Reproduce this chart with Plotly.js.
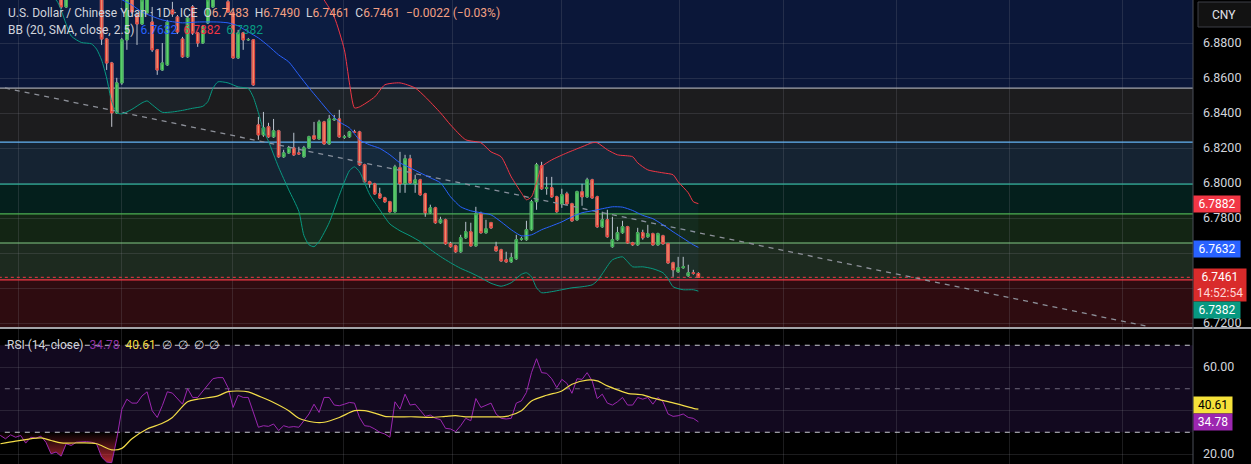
<!DOCTYPE html>
<html><head><meta charset="utf-8">
<script src="https://cdn.plot.ly/plotly-3.0.1.min.js"></script>
<style>html,body{margin:0;padding:0;background:#000;overflow:hidden}#chart{width:1251px;height:464px}</style>
</head><body><div id="chart"></div>
<script>
// ---------- candles (USD/CNY daily) ----------
const openP = [
6.9290,6.9270,6.9240,6.9260,6.9220,6.9240,6.9180,6.9210,6.9190,6.9200,
6.9150,6.9120,6.9100,6.9080,6.9006,6.9075,6.9120,6.9095,6.9140,6.9125,
6.9100,6.9110,6.8823,6.8686,6.8401,6.8572,6.8818,6.9052,6.8960,6.8909,
6.8972,6.8920,6.8761,6.8646,6.8675,6.8989,6.8949,6.8823,6.8721,6.9006,
6.8858,6.8800,6.8915,6.9006,6.9069,6.9090,6.9035,6.8972,6.8715,6.8858,
6.8818,6.8818,6.8332,6.8275,6.8321,6.8264,6.8298,6.8150,6.8172,6.8201,
6.8172,6.8150,6.8201,6.8270,6.8252,6.8349,6.8224,6.8361,6.8366,6.8261,
6.8264,6.8292,6.8292,6.8104,6.8007,6.7995,6.7938,6.7915,6.7893,6.7836,
6.8087,6.7995,6.8138,6.7995,6.8018,6.7938,6.7830,6.7858,6.7773,6.7790,
6.7653,6.7641,6.7607,6.7687,6.7721,6.7641,6.7824,6.7716,6.7773,6.7636,
6.7618,6.7561,6.7550,6.7567,6.7679,6.7676,6.7733,6.7893,6.8098,6.7970,
6.7973,6.7921,6.7881,6.7938,6.7881,6.7790,6.7950,6.7921,6.8018,6.7921,
6.7750,6.7790,6.7636,6.7676,6.7716,6.7750,6.7658,6.7647,6.7716,6.7693,
6.7710,6.7647,6.7698,6.7653,6.7544,6.7493,6.7516,6.7470,6.7487,6.7483];
const highP = [
6.9330,6.9300,6.9290,6.9280,6.9260,6.9250,6.9230,6.9240,6.9230,6.9210,
6.9180,6.9150,6.9130,6.9100,6.9090,6.9140,6.9150,6.9160,6.9170,6.9150,
6.9130,6.9130,6.8829,6.8692,6.8601,6.8829,6.9080,6.9069,6.8977,6.9063,
6.9080,6.9006,6.8766,6.8800,6.8932,6.9035,6.8960,6.8835,6.8955,6.9017,
6.8863,6.8903,6.9057,6.9080,6.9110,6.9100,6.9057,6.8977,6.8875,6.8863,
6.8829,6.8823,6.8378,6.8406,6.8344,6.8366,6.8304,6.8190,6.8212,6.8287,
6.8207,6.8212,6.8270,6.8349,6.8361,6.8355,6.8389,6.8389,6.8418,6.8275,
6.8298,6.8304,6.8298,6.8110,6.8013,6.8001,6.7973,6.7921,6.7898,6.8104,
6.8178,6.8161,6.8161,6.8047,6.8024,6.7944,6.7876,6.7864,6.7807,6.7796,
6.7664,6.7647,6.7704,6.7778,6.7773,6.7864,6.7836,6.7790,6.7778,6.7664,
6.7624,6.7607,6.7601,6.7704,6.7693,6.7784,6.7904,6.8115,6.8121,6.8035,
6.8035,6.7927,6.7967,6.7950,6.7887,6.7956,6.7995,6.8030,6.8024,6.7927,
6.7836,6.7847,6.7807,6.7750,6.7784,6.7755,6.7664,6.7744,6.7733,6.7761,
6.7716,6.7716,6.7704,6.7658,6.7550,6.7578,6.7578,6.7533,6.7504,6.7490];
const lowP = [
6.9250,6.9220,6.9210,6.9200,6.9190,6.9170,6.9160,6.9170,6.9150,6.9130,
6.9100,6.9080,6.9060,6.8995,6.9000,6.9060,6.9080,6.9085,6.9100,6.9080,
6.9070,6.8789,6.8646,6.8321,6.8395,6.8561,6.8761,6.8966,6.8789,6.8903,
6.8966,6.8749,6.8618,6.8641,6.8669,6.8949,6.8852,6.8715,6.8715,6.8846,
6.8778,6.8795,6.8909,6.9000,6.9060,6.9050,6.8972,6.8709,6.8709,6.8761,
6.8812,6.8555,6.8247,6.8264,6.8258,6.8258,6.8144,6.8144,6.8167,6.8155,
6.8161,6.8144,6.8195,6.8247,6.8247,6.8218,6.8218,6.8355,6.8258,6.8252,
6.8258,6.8287,6.8098,6.8001,6.7973,6.7933,6.7910,6.7887,6.7830,6.7830,
6.7944,6.7944,6.7995,6.7944,6.7927,6.7807,6.7824,6.7767,6.7767,6.7647,
6.7630,6.7601,6.7601,6.7681,6.7636,6.7636,6.7710,6.7710,6.7738,6.7607,
6.7550,6.7544,6.7544,6.7561,6.7670,6.7670,6.7727,6.7847,6.7961,6.7933,
6.7915,6.7830,6.7858,6.7876,6.7778,6.7784,6.7870,6.7915,6.7910,6.7744,
6.7744,6.7687,6.7630,6.7670,6.7710,6.7653,6.7641,6.7641,6.7676,6.7687,
6.7641,6.7641,6.7647,6.7538,6.7464,6.7487,6.7510,6.7464,6.7476,6.7461];
const closeP = [
6.9270,6.9240,6.9260,6.9220,6.9240,6.9180,6.9210,6.9190,6.9200,6.9150,
6.9120,6.9100,6.9080,6.9006,6.9075,6.9120,6.9095,6.9140,6.9125,6.9100,
6.9110,6.8823,6.8686,6.8401,6.8572,6.8818,6.9057,6.8977,6.8909,6.9046,
6.9075,6.8761,6.8646,6.8686,6.8920,6.8966,6.8863,6.8721,6.8943,6.8858,
6.8800,6.8892,6.9046,6.9069,6.9090,6.9060,6.8977,6.8715,6.8858,6.8818,
6.8820,6.8561,6.8275,6.8315,6.8264,6.8298,6.8150,6.8172,6.8201,6.8161,
6.8167,6.8201,6.8264,6.8252,6.8349,6.8224,6.8366,6.8366,6.8264,6.8264,
6.8292,6.8289,6.8104,6.8007,6.7995,6.7938,6.7915,6.7893,6.7836,6.8092,
6.7995,6.8138,6.8001,6.8018,6.7933,6.7830,6.7858,6.7773,6.7790,6.7653,
6.7636,6.7607,6.7687,6.7721,6.7641,6.7824,6.7716,6.7738,6.7744,6.7613,
6.7555,6.7550,6.7573,6.7676,6.7681,6.7733,6.7893,6.8104,6.7967,6.7973,
6.7921,6.7836,6.7933,6.7881,6.7784,6.7950,6.7921,6.8018,6.7915,6.7750,
6.7790,6.7693,6.7676,6.7716,6.7750,6.7658,6.7647,6.7716,6.7687,6.7710,
6.7647,6.7710,6.7653,6.7544,6.7504,6.7516,6.7521,6.7487,6.7483,6.7461];

// ---------- Bollinger Bands (20, SMA, close, 2.5), read at candle index ----------
const bbUpperIdx = [12,25,40,55,62,64,65,67,69,70,71,72,75,77,80,83,85,88,90,93,96,98,100,102,104,105,106,107,108,110,113,116,118,119,121,123,126,127,129,132,134,135,137,138,139];
const bbUpperVal = [6.9600,6.9560,6.9480,6.9300,6.9150,6.9090,6.9046,6.8949,6.8761,6.8572,6.8429,6.8435,6.8492,6.8561,6.8572,6.8543,6.8492,6.8401,6.8332,6.8247,6.8230,6.8178,6.8150,6.8035,6.7944,6.7904,6.7921,6.8001,6.8092,6.8132,6.8172,6.8207,6.8230,6.8230,6.8190,6.8161,6.8150,6.8115,6.8075,6.8058,6.8047,6.8007,6.7944,6.7893,6.7882];
const bbMidIdx = [20,24,27,29,33,37,40,44,46,48,50,52,54,56,58,60,62,64,66,68,70,72,74,76,78,80,82,84,86,88,90,92,94,96,98,100,102,104,106,108,110,112,114,116,118,120,122,124,126,128,130,132,134,136,138,139];
const bbMidVal = [6.9140,6.9063,6.9017,6.8977,6.8932,6.8915,6.8920,6.8920,6.8915,6.8898,6.8863,6.8829,6.8783,6.8732,6.8692,6.8618,6.8544,6.8475,6.8406,6.8349,6.8315,6.8247,6.8218,6.8198,6.8161,6.8115,6.8087,6.8058,6.8030,6.8001,6.7921,6.7864,6.7841,6.7830,6.7818,6.7778,6.7733,6.7698,6.7704,6.7733,6.7755,6.7778,6.7807,6.7830,6.7841,6.7853,6.7864,6.7862,6.7843,6.7815,6.7796,6.7761,6.7721,6.7684,6.7647,6.7632];
const bbLowerIdx = [9,12,15,17,19,20,21,22,23,24,25,27,29,30,31,33,35,37,39,41,42,43,44,46,48,50,51,52,53,54,56,58,60,61,62,63,64,66,68,70,71,72,74,76,78,80,82,84,86,88,90,92,94,96,98,100,102,104,105,106,107,108,110,112,114,116,118,119,120,122,124,125,126,128,130,132,133,134,136,138,139];
const bbLowerVal = [6.9075,6.9046,6.8840,6.8803,6.8795,6.8765,6.8703,6.8600,6.8465,6.8401,6.8395,6.8421,6.8458,6.8469,6.8447,6.8404,6.8406,6.8415,6.8427,6.8438,6.8465,6.8540,6.8578,6.8572,6.8549,6.8540,6.8490,6.8401,6.8300,6.8238,6.8090,6.7961,6.7838,6.7700,6.7647,6.7636,6.7665,6.7773,6.7930,6.8070,6.8092,6.8064,6.7935,6.7847,6.7766,6.7727,6.7698,6.7665,6.7620,6.7580,6.7544,6.7512,6.7487,6.7458,6.7427,6.7410,6.7430,6.7478,6.7487,6.7464,6.7401,6.7373,6.7379,6.7390,6.7401,6.7407,6.7418,6.7441,6.7481,6.7561,6.7578,6.7550,6.7521,6.7521,6.7510,6.7487,6.7453,6.7407,6.7390,6.7390,6.7382];

// ---------- RSI (14, close) and its MA ----------
const rsiVal = [
29.0,28.5,27.0,28.8,27.7,28.5,25.0,27.7,27.3,28.2,
25.4,20.1,20.9,19.0,24.7,23.9,25.4,25.7,25.7,25.4,
24.7,18.6,16.3,16.0,27.0,40.6,45.2,43.4,43.4,46.7,
48.6,39.9,36.8,42.2,48.6,48.0,45.2,42.9,50.1,46.0,
46.0,49.0,51.6,54.6,55.1,55.1,50.5,41.4,47.0,46.0,
46.0,39.1,32.3,33.0,32.7,33.8,30.8,33.0,32.3,32.6,
32.3,35.3,38.4,42.9,39.1,46.0,46.0,42.5,42.2,42.9,
43.7,43.4,36.8,33.0,32.7,31.5,30.0,29.2,27.7,44.0,
40.6,47.5,42.5,42.9,39.9,37.3,37.9,36.4,35.8,31.8,
31.5,30.3,33.0,36.4,35.3,45.5,41.4,42.5,43.4,38.4,
36.4,36.1,36.4,43.4,44.4,48.3,57.4,63.8,57.4,57.1,
54.6,50.5,54.3,52.5,47.9,54.6,54.3,57.4,53.6,45.5,
47.5,43.4,42.5,44.0,46.0,42.5,42.5,46.0,45.2,46.0,
42.9,46.0,44.0,38.4,37.3,37.6,38.4,36.8,36.4,34.78];
const rsiMaIdx = [1,4,9,11,13,17,20,23,25,27,30,33,35,38,40,44,46,50,52,55,58,60,63,65,68,71,73,75,77,79,83,86,89,91,93,97,101,104,106,109,112,114,117,119,121,123,125,128,130,133,135,138,139];
const rsiMaVal = [24.7,25.9,27.4,26.2,25.1,25.1,24.7,21.9,22.6,27.0,31.5,34.1,36.8,44.0,45.2,46.7,48.7,48.6,46.7,43.7,39.9,36.4,34.6,34.6,36.8,39.9,39.9,38.8,37.3,37.1,37.1,36.8,37.3,37.6,37.1,37.1,37.3,39.9,44.4,47.0,49.0,52.1,54.0,53.6,51.3,49.5,47.9,47.2,45.7,44.1,42.9,41.0,40.61];

// ---------- drawings & axes ----------
const fibLevels = [6.8542, 6.8234, 6.7994, 6.7823, 6.7657, 6.7446];
const fibLineColors = ['#a3a6ae', '#64b5f6', '#2fae98', '#4caf50', '#81c784', '#f23645'];
const fibFillColors = ['#0b1739', '#1c1c1e', '#152332', '#041f1c', '#132514', '#1d2a1f', '#2e0c10'];
const trendIdx = [1.9, 227.9];
const trendVal = [6.8543, 6.7180];
const priceTicks = [6.72, 6.74, 6.76, 6.78, 6.80, 6.82, 6.84, 6.86, 6.88];
const priceTickHidden = [6.74, 6.76];   // covered by the price labels on the scale
const rsiTicks = [20, 40, 60];
const rsiTickHidden = [40];
const rsiLevels = [70, 50, 30];
const monthGrid = [4.5, 25, 46.8, 68.9, 90.3, 112, 135.2, 155.9, 178.1, 200.6, 222.8];

const last = closeP.length - 1;
const idx = openP.map((_, i) => i);
const bodyHigh = openP.map((o, i) => Math.max(o, closeP[i]));
const bodyLow = openP.map((o, i) => Math.min(o, closeP[i]));
const rsiClip = rsiVal.map(v => Math.min(v, rsiLevels[2]));
const rsiFloor = rsiVal.map(() => rsiLevels[2]);

const GRID = 'rgba(140,142,152,0.2)';
const X0 = -10, X1 = 260;

const traces = [
  {x: trendIdx, y: trendVal, type: 'scatter', mode: 'lines', line: {color: '#8d9099', width: 1.3, dash: '5px,5px'}},
  {x: bbLowerIdx, y: bbLowerVal, type: 'scatter', mode: 'lines', line: {color: '#089981', width: 1, shape: 'spline', smoothing: 0.6}},
  {x: bbUpperIdx, y: bbUpperVal, type: 'scatter', mode: 'lines', line: {color: '#f23645', width: 1, shape: 'spline', smoothing: 0.6}, fill: 'tonexty', fillcolor: 'rgba(33,150,243,0.05)'},
  {x: bbMidIdx, y: bbMidVal, type: 'scatter', mode: 'lines', line: {color: '#2962ff', width: 1, shape: 'spline', smoothing: 0.6}},
  {type: 'candlestick', x: idx, open: openP, high: highP, low: lowP, close: closeP,
   increasing: {line: {color: '#c4c7cf', width: 1}, fillcolor: 'rgba(0,0,0,0)'},
   decreasing: {line: {color: '#c4c7cf', width: 1}, fillcolor: 'rgba(0,0,0,0)'}},
  {type: 'candlestick', x: idx, open: openP, high: bodyHigh, low: bodyLow, close: closeP,
   increasing: {line: {color: '#3aa845', width: 1}, fillcolor: '#62d36a'},
   decreasing: {line: {color: '#ea3a30', width: 1}, fillcolor: '#f98a66'}},
  {x: idx, y: rsiFloor, yaxis: 'y2', type: 'scatter', mode: 'lines', line: {width: 0, color: 'rgba(0,0,0,0)'}},
  {x: idx, y: rsiClip, yaxis: 'y2', type: 'scatter', mode: 'lines', line: {width: 0, color: 'rgba(0,0,0,0)'}, fill: 'tonexty',
   fillcolor: 'rgba(242,54,69,0.3)',
   fillgradient: {type: 'vertical', start: 15.4, stop: 30, colorscale: [[0, 'rgba(242,54,69,0.75)'], [1, 'rgba(242,54,69,0)']]}},
  {x: idx, y: rsiVal, yaxis: 'y2', type: 'scatter', mode: 'lines', line: {color: '#9c27b0', width: 1}},
  {x: rsiMaIdx, y: rsiMaVal, yaxis: 'y2', type: 'scatter', mode: 'lines', line: {color: '#f2dc48', width: 1.2, shape: 'spline', smoothing: 0.8}}
];

const shapes = [];
const bandEdges = [7.5].concat(fibLevels).concat([6.5]);
for (let k = 0; k < fibFillColors.length; k++) {
  shapes.push({type: 'rect', xref: 'x', yref: 'y', x0: X0, x1: X1, y0: bandEdges[k + 1], y1: bandEdges[k],
    fillcolor: fibFillColors[k], line: {width: 0}, layer: 'below'});
}
fibLevels.forEach((lv, k) => shapes.push({type: 'line', xref: 'x', yref: 'y', x0: X0, x1: X1, y0: lv, y1: lv,
  line: {color: fibLineColors[k], width: 1.2}, layer: 'between'}));
shapes.push({type: 'line', xref: 'x', yref: 'y', x0: X0, x1: X1, y0: closeP[last], y1: closeP[last],
  line: {color: '#f23645', width: 1, dash: 'dot'}, layer: 'between'});
shapes.push({type: 'rect', xref: 'x', yref: 'y2', x0: X0, x1: X1, y0: rsiLevels[2], y1: rsiLevels[0],
  fillcolor: '#12091f', line: {width: 0}, layer: 'below'});
rsiLevels.forEach((lv, k) => shapes.push({type: 'line', xref: 'x', yref: 'y2', x0: X0, x1: X1, y0: lv, y1: lv,
  line: {color: k === 1 ? '#6f6a7c' : '#c9ccd3', width: 1, dash: '5px,5px'}, layer: 'between'}));
shapes.push({type: 'line', xref: 'paper', yref: 'paper', x0: 0, x1: 1251 / 1193, y0: 1 - 328 / 464, y1: 1 - 328 / 464,
  line: {color: '#d8dbe2', width: 1.5}});
shapes.push({type: 'line', xref: 'paper', yref: 'paper', x0: 1, x1: 1, y0: 0, y1: 1, line: {color: '#4a4e59', width: 1}});
shapes.push({type: 'rect', xref: 'paper', yref: 'paper', x0: 1198 / 1193, x1: 1256 / 1193, y0: 1 - 27 / 464, y1: 1 - 2 / 464,
  fillcolor: '#121212', line: {color: '#3c3f47', width: 1}});

const fmt4 = v => v.toFixed(4);
const chg = closeP[last] - closeP[last - 1];
const pct = chg / closeP[last - 1] * 100;
const VAL = '#f4a083';
const sp = '\u00a0\u00a0';
const line1 = 'U.S. Dollar / Chinese Yuan · 1D · ICE' + sp +
  'O<span style="color:' + VAL + '">' + fmt4(openP[last]) + '</span>' + sp +
  'H<span style="color:' + VAL + '">' + fmt4(highP[last]) + '</span>' + sp +
  'L<span style="color:' + VAL + '">' + fmt4(lowP[last]) + '</span>' + sp +
  'C<span style="color:' + VAL + '">' + fmt4(closeP[last]) + '</span>' + sp +
  '<span style="color:' + VAL + '">' + (chg < 0 ? '\u2212' : '+') + Math.abs(chg).toFixed(4) +
  ' (' + (pct < 0 ? '\u2212' : '+') + Math.abs(pct).toFixed(2) + '%)</span>';
const bbM = bbMidVal[bbMidVal.length - 1], bbU = bbUpperVal[bbUpperVal.length - 1], bbL = bbLowerVal[bbLowerVal.length - 1];
const line2 = 'BB (20, SMA, close, 2.5)' + sp +
  '<span style="color:#2962ff">' + fmt4(bbM) + '</span>' + sp +
  '<span style="color:#f23645">' + fmt4(bbU) + '</span>' + sp +
  '<span style="color:#089981">' + fmt4(bbL) + '</span>';
const rsiLast = rsiVal[last], maLast = rsiMaVal[rsiMaVal.length - 1];
const line3 = 'RSI (14, close)' + sp + '<span style="color:#8e35a6">' + rsiLast.toFixed(2) + '</span>' + sp +
  '<span style="color:#f2dc48">' + maLast.toFixed(2) + '</span>' + sp + '\u2205' + sp + '\u2205' + sp + '\u2205' + sp + '\u2205';

const FONT = 'Roboto, "Open Sans", sans-serif';
const annotations = [
  {xref: 'paper', yref: 'paper', x: 6 / 1193, y: 1 - 13 / 464, xanchor: 'left', yanchor: 'middle', showarrow: false,
   text: line1, font: {family: FONT, size: 12, color: '#d1d4dc'}},
  {xref: 'paper', yref: 'paper', x: 6 / 1193, y: 1 - 30 / 464, xanchor: 'left', yanchor: 'middle', showarrow: false,
   text: line2, font: {family: FONT, size: 12, color: '#d1d4dc'}},
  {xref: 'paper', yref: 'paper', x: 5 / 1193, y: 1 - 345 / 464, xanchor: 'left', yanchor: 'middle', showarrow: false,
   text: line3, font: {family: FONT, size: 12, color: '#d1d4dc'}},
  {xref: 'paper', yref: 'paper', x: 1224 / 1193, y: 1 - 15 / 464, xanchor: 'center', yanchor: 'middle', showarrow: false,
   text: 'CNY', font: {family: FONT, size: 12, color: '#e0e3ea'}},
  {xref: 'paper', yref: 'y', x: 1, y: bbU, xanchor: 'left', yanchor: 'middle', showarrow: false, text: fmt4(bbU),
   bgcolor: '#f23645', width: 44, borderpad: 1, font: {family: FONT, size: 12, color: '#ffffff'}},
  {xref: 'paper', yref: 'y', x: 1, y: bbM, xanchor: 'left', yanchor: 'middle', yshift: -2, showarrow: false, text: fmt4(bbM),
   bgcolor: '#2962ff', width: 44, borderpad: 1, font: {family: FONT, size: 12, color: '#ffffff'}},
  {xref: 'paper', yref: 'y', x: 1, y: closeP[last], xanchor: 'left', yanchor: 'top', yshift: 9, showarrow: false,
   text: fmt4(closeP[last]) + '<br><span style="color:#ffd6d6">14:52:54</span>',
   bgcolor: '#d92b2b', width: 50, borderpad: 1, font: {family: FONT, size: 12, color: '#ffffff'}},
  {xref: 'paper', yref: 'y', x: 1, y: bbL, xanchor: 'left', yanchor: 'middle', yshift: -19, showarrow: false, text: fmt4(bbL),
   bgcolor: '#089981', width: 44, borderpad: 1, font: {family: FONT, size: 12, color: '#ffffff'}},
  {xref: 'paper', yref: 'y2', x: 1, y: maLast, xanchor: 'left', yanchor: 'middle', yshift: 4, showarrow: false, text: maLast.toFixed(2),
   bgcolor: '#f5e23a', width: 36, borderpad: 1, font: {family: FONT, size: 12, color: '#000000'}},
  {xref: 'paper', yref: 'y2', x: 1, y: rsiLast, xanchor: 'left', yanchor: 'middle', showarrow: false, text: rsiLast.toFixed(2),
   bgcolor: '#9c27b0', width: 36, borderpad: 1, font: {family: FONT, size: 12, color: '#ffffff'}}
];

const layout = {
  width: 1251, height: 464, margin: {l: 0, r: 58, t: 0, b: 0, pad: 0},
  paper_bgcolor: '#000000', plot_bgcolor: '#000000',
  showlegend: false, hovermode: false, dragmode: false,
  font: {family: FONT, color: '#d1d4dc', size: 12},
  xaxis: {range: [0.91, 236.8], tickmode: 'array', tickvals: monthGrid, showticklabels: false, ticks: '',
    showgrid: true, gridcolor: GRID, gridwidth: 1, zeroline: false, showline: false, rangeslider: {visible: false}, fixedrange: true},
  yaxis: {domain: [1 - 327 / 464, 1], range: [6.717714, 6.904571], side: 'right', tickmode: 'array', tickvals: priceTicks,
    ticktext: priceTicks.map(v => priceTickHidden.includes(v) ? '' : fmt4(v)), showgrid: true, gridcolor: GRID, zeroline: false, ticks: '', showline: false,
    ticklabelstandoff: 9, tickfont: {family: FONT, size: 12.5, color: '#d1d4dc'}, fixedrange: true},
  yaxis2: {domain: [0, 1 - 329 / 464], range: [15.40, 77.47], side: 'right', anchor: 'x', tickmode: 'array', tickvals: rsiTicks,
    ticktext: rsiTicks.map(v => rsiTickHidden.includes(v) ? '' : v.toFixed(2)), showgrid: true, gridcolor: GRID, zeroline: false, ticks: '', showline: false,
    ticklabelstandoff: 9, tickfont: {family: FONT, size: 12.5, color: '#d1d4dc'}, fixedrange: true},
  boxgap: 0.3,
  shapes: shapes,
  annotations: annotations
};

Plotly.newPlot('chart', traces, layout, {staticPlot: true, displayModeBar: false});
</script>
</body></html>
